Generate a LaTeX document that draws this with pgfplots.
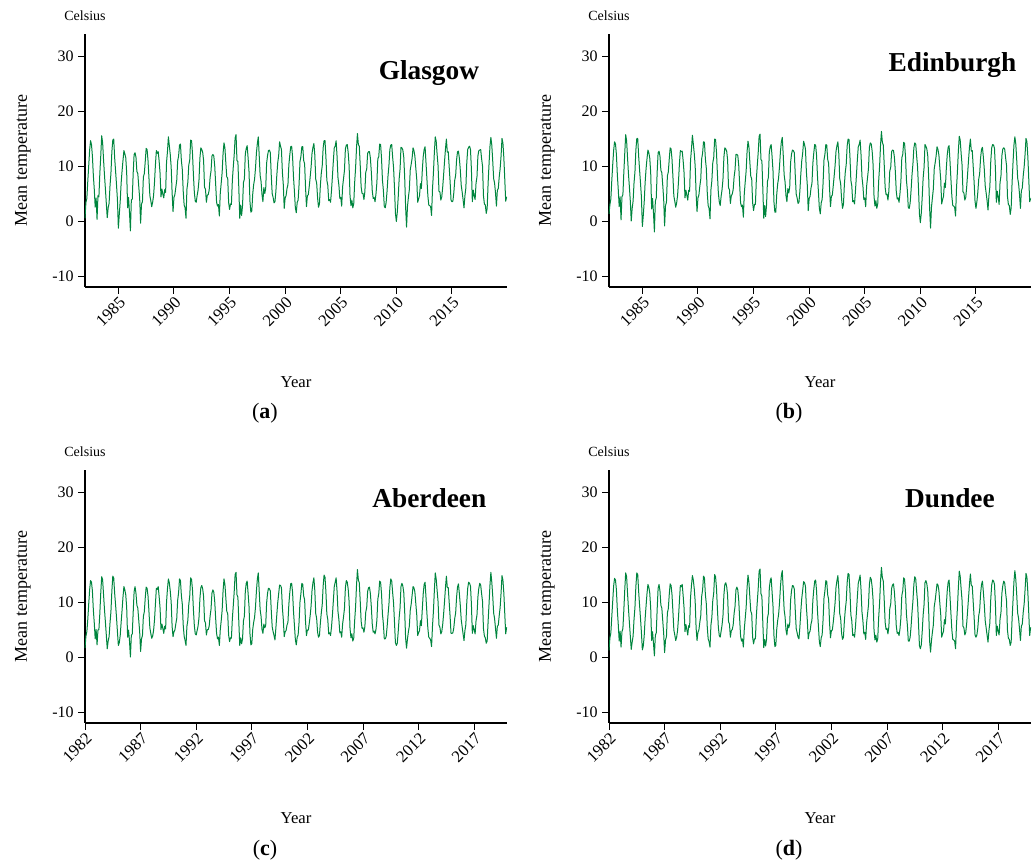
\documentclass[border=0pt]{standalone}
\usepackage{fontspec}
\setmainfont{Liberation Serif}
\usepackage{pgfplots}
\usepackage{pgfplotstable}
\pgfplotsset{compat=1.18}
\definecolor{tempgreen}{RGB}{0,133,62}

% Monthly mean temperature (deg C): Glasgow, Edinburgh, Aberdeen, Dundee
\pgfplotstableread{
yr mo gla edi abe dun
1982 1 0.5 1.3 1.6 1.2
1982 2 3.4 3.0 3.8 3.5
1982 3 4.1 4.0 4.6 4.4
1982 4 7.2 7.3 6.8 7.3
1982 5 10.0 10.2 9.6 10.1
1982 6 12.9 12.8 12.2 12.9
1982 7 14.6 14.4 13.9 14.3
1982 8 13.9 14.0 13.6 14.0
1982 9 11.8 12.1 12.0 12.2
1982 10 8.3 8.4 8.6 8.5
1982 11 5.8 5.7 6.2 5.9
1982 12 2.5 2.6 3.3 2.9
1983 1 4.2 4.4 5.0 4.7
1983 2 0.3 0.2 2.2 1.8
1983 3 4.6 4.4 4.9 4.6
1983 4 4.4 4.8 5.0 5.2
1983 5 8.6 8.8 7.9 8.5
1983 6 11.8 12.3 11.6 12.2
1983 7 15.5 15.7 14.6 15.3
1983 8 14.3 14.6 14.1 14.6
1983 9 11.2 11.5 11.4 11.6
1983 10 8.4 8.6 8.7 8.8
1983 11 5.9 6.2 6.4 6.3
1983 12 3.2 3.6 4.0 3.8
1984 1 0.6 0.0 1.5 1.4
1984 2 2.4 2.3 2.9 2.7
1984 3 3.2 3.6 3.7 3.8
1984 4 6.4 6.9 6.2 6.8
1984 5 8.7 8.9 8.3 9.0
1984 6 12.6 12.9 12.0 12.8
1984 7 14.7 15.0 14.7 15.3
1984 8 14.9 15.0 14.4 15.0
1984 9 11.5 11.8 11.6 11.9
1984 10 9.1 9.3 9.5 9.4
1984 11 6.6 6.9 7.2 7.0
1984 12 3.9 4.3 4.6 4.4
1985 1 -1.3 -1.0 2.1 1.3
1985 2 1.2 1.0 2.6 2.0
1985 3 3.6 3.5 3.9 3.9
1985 4 6.9 7.0 6.3 7.0
1985 5 9.1 9.5 8.5 9.3
1985 6 11.0 11.3 10.9 11.5
1985 7 12.8 12.9 12.8 13.2
1985 8 12.2 12.4 12.2 12.7
1985 9 11.5 11.4 11.3 11.6
1985 10 8.7 8.8 8.9 8.9
1985 11 2.4 2.2 3.6 3.0
1985 12 4.3 4.1 4.9 4.6
1986 1 1.6 1.5 3.0 2.5
1986 2 -1.8 -2.0 0.0 0.2
1986 3 3.8 3.6 3.9 3.9
1986 4 4.0 4.2 4.2 4.4
1986 5 8.7 9.0 8.1 8.8
1986 6 12.1 12.4 11.9 12.5
1986 7 12.4 12.7 12.8 13.2
1986 8 11.6 11.8 11.6 12.0
1986 9 9.0 9.2 9.4 9.4
1986 10 8.6 8.8 8.9 8.9
1986 11 6.3 6.5 6.7 6.6
1986 12 4.1 4.0 4.6 4.3
1987 1 -0.4 -0.9 1.0 0.8
1987 2 3.1 2.8 3.3 3.1
1987 3 3.5 3.4 3.9 3.7
1987 4 8.0 8.2 7.4 8.0
1987 5 8.6 8.9 8.2 8.8
1987 6 10.8 11.2 10.7 11.3
1987 7 13.2 13.3 12.7 13.3
1987 8 13.0 13.1 12.5 13.0
1987 9 11.0 11.2 11.1 11.3
1987 10 7.9 8.0 8.3 8.2
1987 11 4.6 4.5 5.3 4.9
1987 12 3.7 3.6 4.3 4.0
1988 1 2.6 2.5 3.4 3.0
1988 2 3.4 3.3 3.8 3.6
1988 3 4.6 4.6 4.8 4.8
1988 4 7.0 7.2 6.7 7.2
1988 5 10.2 10.4 9.6 10.2
1988 6 12.8 12.8 12.5 13.0
1988 7 12.3 12.6 12.3 12.8
1988 8 12.6 12.7 12.8 13.2
1988 9 10.9 11.0 11.0 11.2
1988 10 8.7 8.8 8.9 8.9
1988 11 4.4 4.2 5.0 4.6
1988 12 5.8 5.6 6.0 5.9
1989 1 4.9 4.7 5.2 5.0
1989 2 4.2 3.8 4.3 4.0
1989 3 5.7 5.6 5.6 5.7
1989 4 5.2 5.4 5.1 5.4
1989 5 10.7 11.0 10.0 10.8
1989 6 12.6 13.1 12.4 13.0
1989 7 15.3 15.6 14.2 14.8
1989 8 13.7 14.0 13.5 14.0
1989 9 12.1 12.3 12.0 12.4
1989 10 9.8 10.0 10.0 10.1
1989 11 5.2 5.0 5.6 5.3
1989 12 1.7 1.7 3.7 3.0
1990 1 4.3 4.2 4.6 4.5
1990 2 4.8 4.7 4.9 4.9
1990 3 6.1 6.3 6.0 6.3
1990 4 7.4 7.6 7.0 7.5
1990 5 10.9 11.3 10.3 11.0
1990 6 11.8 12.3 11.7 12.2
1990 7 13.8 14.4 14.2 14.7
1990 8 14.0 14.3 13.9 14.4
1990 9 11.0 11.3 11.2 11.4
1990 10 9.4 9.6 9.6 9.7
1990 11 5.4 5.3 5.8 5.6
1990 12 2.9 2.8 3.8 3.3
1991 1 2.4 2.3 3.0 2.8
1991 2 0.5 0.4 2.1 1.8
1991 3 5.8 5.7 5.6 5.8
1991 4 7.1 7.3 6.7 7.2
1991 5 10.2 10.6 9.6 10.3
1991 6 11.0 11.5 11.0 11.6
1991 7 14.7 14.9 14.4 15.0
1991 8 14.6 14.8 14.1 14.6
1991 9 12.3 12.5 12.2 12.5
1991 10 8.4 8.5 8.6 8.7
1991 11 5.2 5.1 5.7 5.4
1991 12 3.6 3.5 4.2 3.9
1992 1 3.4 2.8 4.0 3.6
1992 2 4.6 4.5 4.8 4.7
1992 3 5.6 5.7 5.6 5.8
1992 4 7.4 7.6 7.1 7.5
1992 5 11.4 11.6 10.6 11.3
1992 6 13.3 13.3 12.6 13.2
1992 7 13.0 13.1 13.0 13.5
1992 8 12.5 12.7 12.4 12.8
1992 9 11.0 11.1 11.0 11.2
1992 10 6.1 6.0 6.6 6.4
1992 11 5.8 5.7 6.2 6.0
1992 12 3.4 3.2 4.0 3.6
1993 1 4.7 4.6 5.0 4.8
1993 2 4.8 4.9 5.0 5.0
1993 3 5.6 5.7 5.6 5.8
1993 4 7.9 8.0 7.4 7.9
1993 5 9.1 9.3 8.7 9.2
1993 6 11.8 12.1 11.6 12.2
1993 7 12.1 12.1 12.2 12.7
1993 8 11.8 11.9 11.8 12.2
1993 9 10.0 10.1 10.1 10.3
1993 10 6.7 6.6 7.0 6.9
1993 11 3.4 3.3 4.3 3.8
1993 12 2.7 2.6 3.3 2.9
1994 1 3.0 2.9 3.6 3.3
1994 2 0.9 0.7 2.1 1.8
1994 3 5.1 5.0 5.0 5.1
1994 4 6.9 7.1 6.6 7.0
1994 5 8.8 9.1 8.5 9.0
1994 6 12.3 12.6 12.0 12.6
1994 7 14.2 14.5 14.2 14.9
1994 8 13.3 13.5 13.2 13.6
1994 9 10.5 10.7 10.7 10.9
1994 10 8.0 8.1 8.3 8.3
1994 11 7.8 7.7 7.9 7.9
1994 12 3.4 3.3 4.0 3.6
1995 1 2.1 1.9 2.8 2.4
1995 2 3.1 3.0 3.5 3.3
1995 3 3.0 3.0 3.4 3.3
1995 4 7.3 7.5 6.9 7.4
1995 5 9.8 10.1 9.3 10.0
1995 6 12.0 12.4 11.8 12.4
1995 7 15.1 15.4 15.0 15.6
1995 8 15.7 15.8 15.4 16.0
1995 9 11.0 11.2 11.3 11.5
1995 10 10.8 10.9 10.9 11.0
1995 11 6.0 5.9 6.4 6.2
1995 12 0.5 0.5 2.1 1.7
1996 1 2.9 2.8 3.5 3.2
1996 2 1.0 0.8 2.4 2.0
1996 3 2.8 2.9 3.3 3.2
1996 4 7.0 7.2 6.6 7.1
1996 5 7.6 7.9 7.4 7.9
1996 6 12.2 12.5 11.9 12.5
1996 7 13.2 13.5 13.4 13.9
1996 8 13.7 13.9 13.8 14.4
1996 9 11.5 11.7 11.6 11.8
1996 10 9.0 9.1 9.2 9.2
1996 11 3.6 3.5 4.3 3.9
1996 12 1.6 1.6 2.2 1.9
1997 1 1.8 1.6 2.4 2.1
1997 2 4.9 4.8 5.0 5.0
1997 3 6.6 6.7 6.3 6.6
1997 4 7.6 7.8 7.2 7.7
1997 5 9.6 9.9 9.1 9.8
1997 6 12.4 12.6 12.0 12.7
1997 7 14.1 14.4 14.2 14.8
1997 8 15.3 15.2 15.3 15.7
1997 9 11.9 12.1 12.0 12.2
1997 10 8.3 8.4 8.6 8.6
1997 11 7.2 7.1 7.4 7.3
1997 12 4.8 4.6 5.0 4.9
1998 1 3.5 3.5 4.3 4.0
1998 2 6.1 5.9 6.0 6.0
1998 3 5.0 5.1 5.3 5.3
1998 4 5.9 6.1 5.7 6.0
1998 5 10.5 10.7 9.8 10.4
1998 6 11.9 12.2 11.6 12.1
1998 7 12.8 12.9 12.5 13.0
1998 8 12.9 12.8 12.4 12.9
1998 9 12.4 12.4 12.0 12.3
1998 10 8.3 8.4 8.5 8.5
1998 11 5.0 4.9 5.5 5.2
1998 12 4.3 4.2 4.6 4.4
1999 1 3.3 3.2 3.9 3.6
1999 2 3.5 3.4 3.1 3.3
1999 3 5.4 5.5 5.3 5.5
1999 4 8.3 8.5 7.7 8.3
1999 5 10.6 10.9 9.9 10.6
1999 6 11.9 12.3 11.5 12.1
1999 7 14.4 14.5 13.1 13.7
1999 8 13.6 13.9 13.0 13.5
1999 9 13.0 13.1 12.6 12.9
1999 10 8.9 9.0 9.0 9.1
1999 11 6.6 6.5 6.8 6.7
1999 12 2.3 1.9 3.7 3.3
2000 1 4.2 4.1 4.6 4.4
2000 2 4.6 4.5 4.8 4.7
2000 3 5.9 6.0 5.8 6.0
2000 4 6.6 6.8 6.3 6.7
2000 5 10.2 10.5 9.6 10.3
2000 6 12.0 12.4 11.7 12.3
2000 7 13.5 13.9 13.3 13.8
2000 8 13.6 13.8 13.4 14.0
2000 9 11.7 11.9 11.8 12.0
2000 10 8.0 8.1 8.3 8.3
2000 11 5.4 5.3 5.8 5.6
2000 12 2.4 2.3 3.2 2.8
2001 1 1.5 1.3 2.2 1.9
2001 2 3.4 3.3 3.6 3.5
2001 3 3.8 3.9 4.0 4.0
2001 4 6.6 6.8 6.3 6.7
2001 5 10.8 11.1 10.0 10.7
2001 6 11.7 12.1 11.5 12.0
2001 7 13.5 13.9 13.4 13.9
2001 8 13.5 13.8 13.2 13.7
2001 9 11.0 11.2 11.1 11.3
2001 10 10.4 10.5 10.4 10.5
2001 11 6.1 6.0 6.4 6.2
2001 12 2.6 2.6 3.9 3.5
2002 1 4.6 4.5 4.9 4.8
2002 2 4.8 4.7 4.9 4.9
2002 3 6.3 6.4 6.1 6.3
2002 4 8.0 8.2 7.5 8.0
2002 5 9.8 10.1 9.3 9.9
2002 6 12.3 12.7 12.1 12.7
2002 7 13.4 13.7 13.5 13.9
2002 8 14.1 14.4 14.4 14.8
2002 9 12.0 12.2 12.1 12.3
2002 10 7.6 7.7 7.9 7.9
2002 11 6.9 6.8 7.0 7.0
2002 12 4.2 4.0 4.5 4.3
2003 1 2.5 2.3 3.6 3.2
2003 2 3.1 3.0 3.9 3.6
2003 3 6.5 6.6 6.2 6.5
2003 4 8.7 8.9 8.0 8.6
2003 5 10.0 10.3 9.5 10.1
2003 6 13.3 13.6 12.9 13.5
2003 7 14.6 14.9 14.9 15.2
2003 8 14.6 14.8 14.5 15.0
2003 9 11.6 11.8 11.8 12.0
2003 10 7.4 7.4 7.8 7.7
2003 11 6.5 6.4 6.8 6.6
2003 12 3.7 3.5 4.2 3.9
2004 1 3.9 3.7 4.4 4.1
2004 2 3.4 3.1 3.9 3.6
2004 3 5.5 5.6 5.4 5.6
2004 4 8.1 8.3 7.6 8.1
2004 5 10.9 11.1 10.2 10.9
2004 6 13.3 13.5 12.8 13.4
2004 7 13.6 13.9 13.6 14.1
2004 8 14.6 14.7 14.4 14.9
2004 9 11.8 12.0 12.0 12.2
2004 10 7.9 8.0 8.3 8.2
2004 11 6.5 6.4 6.8 6.6
2004 12 4.1 3.9 4.4 4.2
2005 1 4.3 4.2 4.6 4.5
2005 2 2.7 2.6 3.6 3.2
2005 3 6.2 6.3 6.0 6.2
2005 4 7.7 7.9 7.3 7.8
2005 5 9.2 9.5 8.8 9.4
2005 6 13.1 13.4 12.6 13.2
2005 7 13.8 14.2 13.9 14.5
2005 8 13.9 14.0 13.6 14.1
2005 9 12.5 12.7 12.4 12.7
2005 10 10.1 10.2 10.1 10.3
2005 11 4.6 4.5 5.2 4.9
2005 12 2.8 2.7 3.5 3.1
2006 1 3.8 3.7 4.2 4.0
2006 2 2.4 2.3 2.9 2.7
2006 3 3.1 3.1 3.4 3.3
2006 4 7.0 7.2 6.6 7.1
2006 5 9.6 9.9 9.1 9.8
2006 6 13.3 13.7 13.0 13.7
2006 7 15.9 16.3 15.9 16.3
2006 8 13.9 14.3 14.0 14.4
2006 9 13.6 13.8 13.5 13.8
2006 10 10.2 10.3 10.2 10.4
2006 11 6.2 6.1 6.5 6.3
2006 12 5.0 4.8 5.2 5.0
2007 1 5.0 4.9 5.3 5.2
2007 2 3.9 3.8 4.5 4.2
2007 3 5.3 5.4 5.5 5.5
2007 4 8.9 9.1 8.2 8.8
2007 5 9.4 9.7 9.0 9.6
2007 6 12.3 12.6 11.9 12.5
2007 7 12.6 12.9 12.6 13.1
2007 8 12.6 12.8 12.7 13.3
2007 9 11.4 11.6 11.5 11.8
2007 10 8.9 9.0 9.1 9.2
2007 11 5.5 5.4 6.0 5.7
2007 12 4.1 4.0 4.5 4.3
2008 1 4.3 4.2 4.7 4.5
2008 2 3.5 3.4 4.2 3.9
2008 3 4.9 5.0 5.0 5.1
2008 4 7.0 7.2 6.7 7.1
2008 5 11.3 11.5 10.5 11.2
2008 6 11.7 12.1 11.5 12.0
2008 7 14.0 14.3 13.8 14.4
2008 8 13.9 14.1 13.6 14.1
2008 9 11.4 11.6 11.5 11.7
2008 10 7.4 7.4 7.8 7.7
2008 11 5.6 5.5 6.0 5.8
2008 12 2.6 2.4 3.3 2.9
2009 1 2.4 2.3 3.3 2.9
2009 2 3.4 3.3 3.7 3.6
2009 3 5.5 5.6 5.4 5.6
2009 4 8.2 8.4 7.6 8.1
2009 5 10.1 10.4 9.6 10.2
2009 6 13.0 13.3 12.6 13.2
2009 7 13.8 14.2 14.2 14.6
2009 8 13.9 14.0 13.8 14.2
2009 9 11.6 11.8 11.7 11.9
2009 10 9.7 9.8 9.8 9.9
2009 11 6.0 5.9 6.3 6.1
2009 12 1.4 1.3 2.6 2.1
2010 1 -0.1 -0.3 2.1 1.5
2010 2 1.6 1.4 2.5 2.2
2010 3 4.3 4.3 4.6 4.6
2010 4 7.6 7.8 7.1 7.6
2010 5 9.4 9.7 8.9 9.5
2010 6 13.4 13.9 12.8 13.5
2010 7 13.3 13.6 13.4 13.9
2010 8 12.9 13.1 12.9 13.3
2010 9 11.6 11.8 11.7 11.9
2010 10 7.9 7.9 8.2 8.2
2010 11 2.5 2.3 3.4 2.9
2010 12 -1.1 -1.3 1.6 0.9
2011 1 2.6 2.5 3.3 3.0
2011 2 4.3 4.2 4.6 4.5
2011 3 5.7 5.8 5.6 5.8
2011 4 9.3 9.5 8.5 9.2
2011 5 10.3 10.6 9.6 10.3
2011 6 11.4 11.8 11.2 11.8
2011 7 13.3 13.5 12.8 13.3
2011 8 12.8 13.0 12.6 13.1
2011 9 11.8 12.0 11.8 12.1
2011 10 9.6 9.7 9.7 9.8
2011 11 7.6 7.5 7.7 7.7
2011 12 3.4 3.1 3.9 3.6
2012 1 4.0 3.9 4.4 4.2
2012 2 4.6 4.5 4.8 4.7
2012 3 6.8 6.9 6.6 6.8
2012 4 5.9 6.1 5.7 6.0
2012 5 9.2 9.5 8.7 9.3
2012 6 11.7 12.0 11.5 12.0
2012 7 13.0 13.4 13.2 13.6
2012 8 13.5 13.7 13.6 14.0
2012 9 10.6 10.8 10.8 11.0
2012 10 7.6 7.6 7.9 7.9
2012 11 4.6 4.5 5.2 4.9
2012 12 2.9 2.8 3.6 3.2
2013 1 2.8 2.7 3.4 3.1
2013 2 2.6 2.5 3.1 2.9
2013 3 1.0 0.9 1.9 1.5
2013 4 5.8 5.9 5.6 5.9
2013 5 8.7 9.0 8.3 8.9
2013 6 12.4 12.7 12.0 12.6
2013 7 15.3 15.4 15.3 15.6
2013 8 14.5 14.7 14.2 14.7
2013 9 12.1 12.3 12.1 12.4
2013 10 10.1 10.2 10.1 10.3
2013 11 5.4 5.3 5.8 5.6
2013 12 5.3 5.1 5.4 5.3
2014 1 3.8 3.8 4.2 4.0
2014 2 4.4 4.3 4.6 4.5
2014 3 6.1 6.2 5.9 6.1
2014 4 8.4 8.6 7.8 8.4
2014 5 10.8 11.1 10.1 10.8
2014 6 13.1 13.4 12.6 13.2
2014 7 14.9 14.9 14.7 15.1
2014 8 12.5 12.7 12.6 13.0
2014 9 12.6 12.8 12.6 12.9
2014 10 9.9 10.0 10.0 10.1
2014 11 7.2 7.1 7.4 7.3
2014 12 3.8 3.6 4.3 4.0
2015 1 3.5 2.3 4.3 3.6
2015 2 3.6 3.5 4.4 4.0
2015 3 5.1 5.2 5.3 5.3
2015 4 7.4 7.6 7.0 7.5
2015 5 8.3 8.6 8.0 8.5
2015 6 11.1 11.5 10.9 11.5
2015 7 12.6 13.0 12.7 13.2
2015 8 12.7 13.4 13.3 13.8
2015 9 11.4 11.6 11.5 11.8
2015 10 9.3 9.4 9.4 9.5
2015 11 6.5 6.4 6.8 6.6
2015 12 5.3 5.1 5.5 5.3
2016 1 3.9 3.7 4.2 4.0
2016 2 2.4 2.0 3.0 2.7
2016 3 4.6 4.6 4.8 4.8
2016 4 6.0 6.2 5.9 6.2
2016 5 10.6 10.9 9.9 10.6
2016 6 13.0 13.3 12.5 13.1
2016 7 13.4 13.9 13.6 14.0
2016 8 13.6 13.8 13.4 13.8
2016 9 13.0 13.2 12.9 13.2
2016 10 9.4 9.5 9.6 9.6
2016 11 3.5 3.4 4.3 3.9
2016 12 5.6 5.4 5.7 5.6
2017 1 4.6 4.4 4.9 4.7
2017 2 3.9 3.0 4.2 4.0
2017 3 6.9 7.0 6.6 6.9
2017 4 8.0 8.2 7.6 8.1
2017 5 11.8 11.9 10.9 11.6
2017 6 12.8 13.1 12.5 13.0
2017 7 12.9 13.3 13.4 13.8
2017 8 13.0 13.1 13.1 13.5
2017 9 11.3 11.5 11.5 11.7
2017 10 10.0 10.1 10.1 10.2
2017 11 4.6 4.5 5.2 4.9
2017 12 3.1 3.0 3.8 3.4
2018 1 2.9 2.8 3.5 3.2
2018 2 1.4 1.2 2.5 2.1
2018 3 2.3 2.4 2.9 2.7
2018 4 6.8 7.0 6.4 6.9
2018 5 10.3 10.6 9.6 10.3
2018 6 13.5 13.8 13.0 13.7
2018 7 15.2 15.3 15.4 15.7
2018 8 13.8 14.0 13.6 14.1
2018 9 10.9 11.1 11.1 11.3
2018 10 7.7 7.8 8.0 8.0
2018 11 6.9 6.8 7.0 7.0
2018 12 5.1 4.9 5.2 5.1
2019 1 2.7 2.3 3.4 3.0
2019 2 5.6 5.5 5.6 5.6
2019 3 5.9 6.0 5.8 6.0
2019 4 8.0 8.2 7.5 8.1
2019 5 9.5 9.8 9.0 9.6
2019 6 11.8 12.1 11.6 12.2
2019 7 15.0 15.0 14.8 15.2
2019 8 14.2 14.4 14.0 14.5
2019 9 11.5 11.7 11.6 11.8
2019 10 7.6 7.6 7.9 7.9
2019 11 3.6 3.5 4.2 3.9
2019 12 4.4 4.1 5.4 5.4
}\temps

\tikzset{
  templine/.style={tempgreen, line width=0.75pt, line join=round},
  cityname/.style={font=\fontsize{20.5}{24}\selectfont\bfseries, anchor=base},
  panelname/.style={font=\fontsize{16.5}{19}\selectfont, anchor=center},
  unitname/.style={font=\fontsize{10.5}{12}\selectfont, anchor=center},
}

\pgfplotsset{
  tempaxis/.style={
    scale only axis, width=316.5pt, height=189.75pt,
    xmin=1982, xmax=2019.95, ymin=-12, ymax=34,
    axis x line*=bottom, axis y line*=left,
    axis line style={line width=0.9pt, black, -},
    ytick={-10,0,10,20,30},
    tick align=outside, major tick length=5pt,
    tick style={line width=0.7pt, black},
    /pgf/number format/assume math mode=true,
    /pgf/number format/1000 sep={},
    yticklabel style={font=\fontsize{12}{14}\selectfont},
    xticklabel style={rotate=45, anchor=north east, inner sep=1pt,
      font=\fontsize{12.5}{14}\selectfont},
    xlabel={Year}, ylabel={Mean temperature},
    xlabel style={at={(axis description cs:0.5,-0.375)}, anchor=center,
      font=\fontsize{12.5}{15}\selectfont},
    ylabel style={at={(axis description cs:-0.147,0.5)}, anchor=center,
      font=\fontsize{13.5}{16}\selectfont},
    clip=false,
  },
}

\begin{document}
\begin{tikzpicture}
\path[use as bounding box] (0,0) rectangle (777pt,651pt);

% (a) Glasgow
\begin{axis}[tempaxis, at={(63.75pt,435.75pt)}, anchor=south west,
  xtick={1985,1990,...,2015}]
\addplot[templine] table[x expr=\thisrow{yr}+(\thisrow{mo}-1)/12, y=gla] {\temps};
\node[cityname] at (axis description cs:0.815,0.822) {Glasgow};
\node[unitname] at (axis description cs:0,1.071) {Celsius};
\node[panelname] at (axis description cs:0.4265,-0.498) {(\textbf{a})};
\end{axis}

% (b) Edinburgh
\begin{axis}[tempaxis, at={(456.75pt,435.75pt)}, anchor=south west,
  xtick={1985,1990,...,2015}]
\addplot[templine] table[x expr=\thisrow{yr}+(\thisrow{mo}-1)/12, y=edi] {\temps};
\node[cityname] at (axis description cs:0.814,0.85) {Edinburgh};
\node[unitname] at (axis description cs:0,1.071) {Celsius};
\node[panelname] at (axis description cs:0.4265,-0.498) {(\textbf{b})};
\end{axis}

% (c) Aberdeen
\begin{axis}[tempaxis, at={(63.75pt,108.75pt)}, anchor=south west,
  xtick={1982,1987,...,2017}]
\addplot[templine] table[x expr=\thisrow{yr}+(\thisrow{mo}-1)/12, y=abe] {\temps};
\node[cityname] at (axis description cs:0.816,0.85) {Aberdeen};
\node[unitname] at (axis description cs:0,1.071) {Celsius};
\node[panelname] at (axis description cs:0.4265,-0.502) {(\textbf{c})};
\end{axis}

% (d) Dundee
\begin{axis}[tempaxis, at={(456.75pt,108.75pt)}, anchor=south west,
  xtick={1982,1987,...,2017}]
\addplot[templine] table[x expr=\thisrow{yr}+(\thisrow{mo}-1)/12, y=dun] {\temps};
\node[cityname] at (axis description cs:0.808,0.85) {Dundee};
\node[unitname] at (axis description cs:0,1.071) {Celsius};
\node[panelname] at (axis description cs:0.4265,-0.502) {(\textbf{d})};
\end{axis}
\end{tikzpicture}
\end{document}
